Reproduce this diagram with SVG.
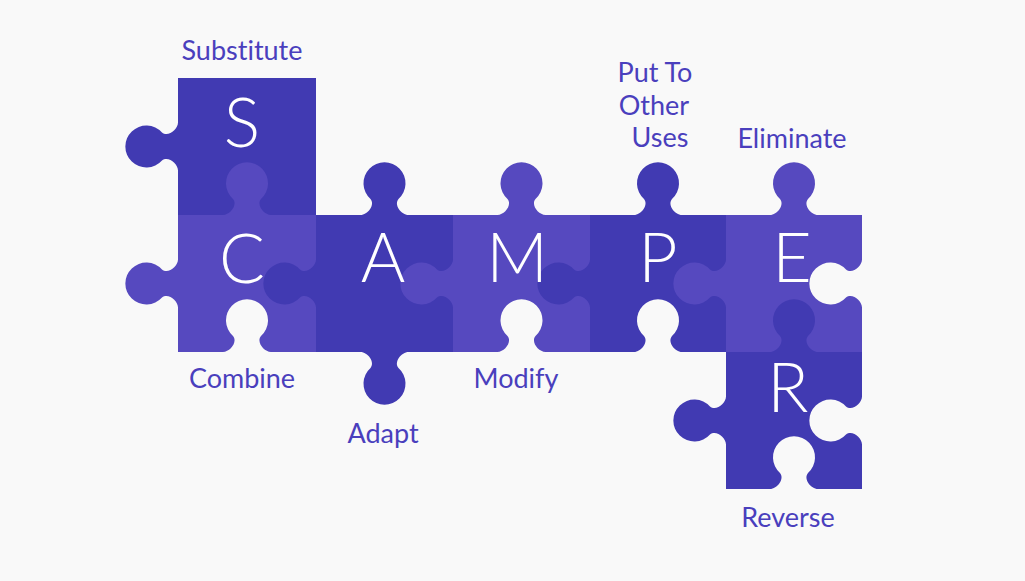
<svg xmlns="http://www.w3.org/2000/svg" xmlns:xlink="http://www.w3.org/1999/xlink" width="1025" height="581" viewBox="0 0 1025 581">
<defs>
<path id="tab" d="M-24,1 L-24,0 C-17,0 -9,-10 -14,-16 A21,21 0 1 1 14,-16 C9,-10 17,0 24,0 L24,1 Z"/>
<style>
.dark{fill:#413AB2}
.light{fill:#5649BF}
.bg{fill:#F9F9F9}
.letter{font-family:"Lato","Liberation Sans",sans-serif;font-size:68px;font-weight:300;fill:#FFFFFF;text-anchor:middle}
.label{font-family:"Lato","Liberation Sans",sans-serif;font-size:27px;fill:#4A3FBD;text-anchor:middle;font-variant-ligatures:none}
</style>
</defs>
<rect width="1025" height="581" class="bg"/>
<g id="piece-S">
<rect x="178" y="78" width="138" height="137" class="dark"/>
<use xlink:href="#tab" href="#tab" class="dark" transform="translate(178,146.5) rotate(-90)"/>
</g>
<g id="piece-C">
<rect x="178" y="215" width="138" height="137" class="light"/>
<use xlink:href="#tab" href="#tab" class="light" transform="translate(178,283.5) rotate(-90)"/>
<use xlink:href="#tab" href="#tab" class="light" transform="translate(247,215)"/>
<use xlink:href="#tab" href="#tab" class="bg" transform="translate(247,352)"/>
</g>
<g id="piece-A">
<rect x="316" y="215" width="137" height="137" class="dark"/>
<use xlink:href="#tab" href="#tab" class="dark" transform="translate(384.5,215)"/>
<use xlink:href="#tab" href="#tab" class="dark" transform="translate(384.5,352) rotate(180)"/>
<use xlink:href="#tab" href="#tab" class="dark" transform="translate(316,283.5) rotate(-90)"/>
</g>
<g id="piece-M">
<rect x="453" y="215" width="137" height="137" class="light"/>
<use xlink:href="#tab" href="#tab" class="light" transform="translate(521.5,215)"/>
<use xlink:href="#tab" href="#tab" class="light" transform="translate(453,283.5) rotate(-90)"/>
<use xlink:href="#tab" href="#tab" class="bg" transform="translate(521.5,352)"/>
</g>
<g id="piece-P">
<rect x="590" y="215" width="136" height="137" class="dark"/>
<use xlink:href="#tab" href="#tab" class="dark" transform="translate(658,215)"/>
<use xlink:href="#tab" href="#tab" class="dark" transform="translate(590,283.5) rotate(-90)"/>
<use xlink:href="#tab" href="#tab" class="bg" transform="translate(658,352)"/>
</g>
<g id="piece-E">
<rect x="726" y="215" width="136" height="137" class="light"/>
<use xlink:href="#tab" href="#tab" class="light" transform="translate(794,215)"/>
<use xlink:href="#tab" href="#tab" class="light" transform="translate(726,283.5) rotate(-90)"/>
<use xlink:href="#tab" href="#tab" class="bg" transform="translate(862,283.5) rotate(-90)"/>
</g>
<g id="piece-R">
<rect x="726" y="352" width="136" height="137" class="dark"/>
<use xlink:href="#tab" href="#tab" class="dark" transform="translate(794,352)"/>
<use xlink:href="#tab" href="#tab" class="dark" transform="translate(726,420.5) rotate(-90)"/>
<use xlink:href="#tab" href="#tab" class="bg" transform="translate(862,420.5) rotate(-90)"/>
<use xlink:href="#tab" href="#tab" class="bg" transform="translate(794,489)"/>
</g>
<g id="letters">
<text class="letter" x="242" y="147">S</text>
<text class="letter" x="242" y="283">C</text>
<text class="letter" x="383" y="282">A</text>
<text class="letter" x="517" y="282">M</text>
<text class="letter" x="658" y="282">P</text>
<text class="letter" x="792" y="282">E</text>
<text class="letter" x="788" y="412">R</text>
</g>
<g id="labels">
<text class="label" x="242" y="60">Substitute</text>
<text class="label" x="655" y="82">Put To</text>
<text class="label" x="654" y="115">Other</text>
<text class="label" x="660" y="147">Uses</text>
<text class="label" x="792" y="148">Eliminate</text>
<text class="label" x="242" y="388">Combine</text>
<text class="label" x="383" y="443">Adapt</text>
<text class="label" x="516" y="388">Modify</text>
<text class="label" x="788" y="527">Reverse</text>
</g>
</svg>
